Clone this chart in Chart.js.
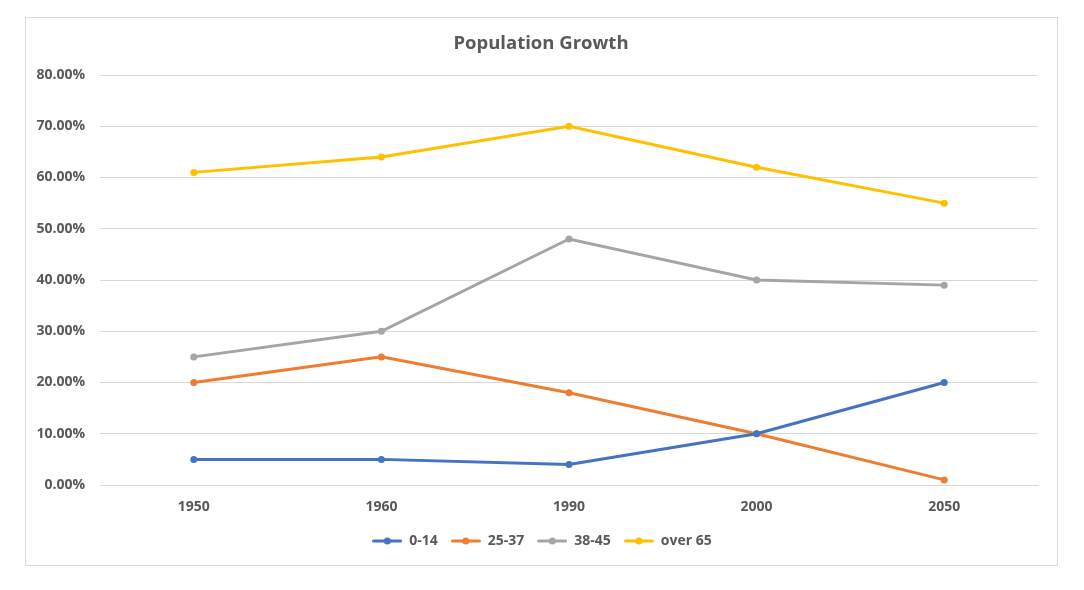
<!DOCTYPE html>
<html>
<head>
<meta charset="utf-8">
<script src="https://cdn.jsdelivr.net/npm/chart.js@4.4.1/dist/chart.umd.min.js"></script>
<style>
  html, body { margin: 0; padding: 0; background: #ffffff; }
  #frame { position: absolute; left: 25px; top: 17px; width: 1031px; height: 547px; border: 1px solid #d9d9d9; }
  #wrap { position: absolute; left: 0; top: 0; width: 1084px; height: 590px; }
</style>
</head>
<body>
<div id="frame"></div>
<div id="wrap"><canvas id="c" width="1084" height="590"></canvas></div>
<script>
const categories = ['1950', '1960', '1990', '2000', '2050'];
const seriesNames = ['0-14', '25-37', '38-45', 'over 65'];
const age0to14 = [5, 5, 4, 10, 20];
const age25to37 = [20, 25, 18, 10, 1];
const age38to45 = [25, 30, 48, 40, 39];
const over65 = [61, 64, 70, 62, 55];
const colors = ['#4472C4', '#ED7D31', '#A5A5A5', '#FFC000'];
const yMin = 0, yMax = 80, yStep = 10;

function legendIcon(color) {
  const c = document.createElement('canvas');
  c.width = 30; c.height = 10;
  const g = c.getContext('2d');
  g.strokeStyle = color; g.lineWidth = 3; g.lineCap = 'round';
  g.beginPath(); g.moveTo(1.5, 5); g.lineTo(28.5, 5); g.stroke();
  g.fillStyle = color;
  g.beginPath(); g.arc(15, 5, 3.5, 0, Math.PI * 2); g.fill();
  return c;
}

const allSeries = [age0to14, age25to37, age38to45, over65];
const datasets = allSeries.map((vals, i) => ({
  label: seriesNames[i],
  data: vals,
  borderColor: colors[i],
  backgroundColor: colors[i],
  borderWidth: 3,
  pointRadius: 3.5,
  pointHoverRadius: 3.5,
  pointBorderWidth: 0,
  pointStyle: 'circle',
  tension: 0,
  fill: false
}));
const icons = colors.map(legendIcon);

// Center title and legend on the outer frame rather than on the padded area
const centerOnFrame = {
  id: 'centerOnFrame',
  afterLayout(chart) {
    const shift = (b, dx) => { if (b) { b.left += dx; b.right += dx; } };
    shift(chart.titleBlock, 7);
    shift(chart.legend, 8);
  }
};

const txt = '#595959';
new Chart(document.getElementById('c'), {
  type: 'line',
  data: { labels: categories, datasets },
  plugins: [centerOnFrame],
  options: {
    responsive: false,
    animation: false,
    devicePixelRatio: 1,
    layout: { padding: { left: 30, right: 46, top: 0, bottom: 32 } },
    plugins: {
      title: {
        display: true,
        text: 'Population Growth',
        color: txt,
        font: { family: 'Open Sans', size: 18.5, weight: 'bold' },
        padding: { top: 33, bottom: 19.8 }
      },
      legend: {
        position: 'bottom',
        labels: {
          color: txt,
          font: { family: 'Open Sans', size: 14, weight: 'bold' },
          usePointStyle: true,
          pointStyleWidth: 30,
          boxHeight: 10,
          padding: 13,
          generateLabels: (chart) => chart.data.datasets.map((ds, i) => ({
            text: ds.label,
            pointStyle: icons[i],
            fillStyle: ds.borderColor,
            strokeStyle: ds.borderColor,
            lineWidth: 0,
            fontColor: txt,
            hidden: false,
            datasetIndex: i
          }))
        }
      },
      tooltip: { enabled: false }
    },
    scales: {
      x: {
        offset: true,
        grid: { display: false, drawTicks: false },
        border: { display: true, color: '#d9d9d9', width: 1 },
        ticks: { color: txt, font: { family: 'Open Sans', size: 14, weight: 'bold' }, padding: 14 },
        afterFit: (s) => { s.height = 36; }
      },
      y: {
        min: yMin, max: yMax,
        grid: { color: '#d9d9d9', drawTicks: false, lineWidth: 1 },
        border: { display: false },
        ticks: {
          stepSize: yStep,
          color: txt,
          font: { family: 'Open Sans', size: 14, weight: 'bold' },
          padding: 15,
          callback: (v) => v.toFixed(2) + '%'
        },
        afterFit: (s) => { s.width = 70; }
      }
    }
  }
});
</script>
</body>
</html>
